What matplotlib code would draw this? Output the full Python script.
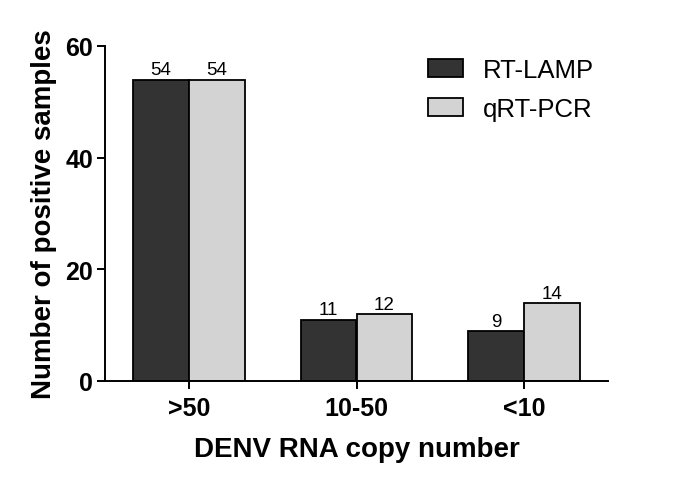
import matplotlib
matplotlib.use("Agg")
import matplotlib.pyplot as plt
import numpy as np

categories = [">50", "10-50", "<10"]
rt_lamp = [54, 11, 9]
qrt_pcr = [54, 12, 14]
series_names = ["RT-LAMP", "qRT-PCR"]
yticks = [0, 20, 40, 60]

plt.rcParams['font.family'] = ['Liberation Sans', 'DejaVu Sans']

fig = plt.figure(figsize=(6.85, 4.85), dpi=100)
ax = fig.add_axes([105/685, 103/485, 503/685, 335/485])

x = np.arange(len(categories))
w = 1/3
b1 = ax.bar(x - w/2, rt_lamp, w, color="#333333", edgecolor="black", linewidth=1.3, label=series_names[0])
b2 = ax.bar(x + w/2, qrt_pcr, w, color="#d3d3d3", edgecolor="black", linewidth=1.3, label=series_names[1])

for bars, vals in ((b1, rt_lamp), (b2, qrt_pcr)):
    for r, v in zip(bars, vals):
        ax.text(r.get_x() + r.get_width()/2, v + 0.2, str(v), ha="center", va="bottom", fontsize=13.5)

ax.set_xlim(-0.5, 2.5)
ax.set_ylim(0, 60)
ax.set_yticks(yticks)
ax.set_xticks(x)
ax.set_xticklabels(categories)
for s in ("top", "right"):
    ax.spines[s].set_visible(False)
for s in ("left", "bottom"):
    ax.spines[s].set_linewidth(1.4)
ax.tick_params(axis="both", width=1.4, length=5.5, labelsize=18, pad=3)
ax.tick_params(axis="x", pad=5)
for lbl in ax.get_xticklabels() + ax.get_yticklabels():
    lbl.set_fontweight("bold")
ax.set_ylabel("Number of positive samples", fontsize=20, fontweight="bold", labelpad=6)
ax.set_xlabel("DENV RNA copy number", fontsize=20, fontweight="bold", labelpad=12)

leg = fig.legend(handles=[b1, b2], labels=series_names, loc="upper left",
                 bbox_to_anchor=(428/685, 1 - 59/485), frameon=False, fontsize=18.5,
                 handlelength=1.35, handleheight=0.7, labelspacing=0.6, handletextpad=0.8,
                 borderpad=0, borderaxespad=0)

fig.savefig("out.png", dpi=100)
